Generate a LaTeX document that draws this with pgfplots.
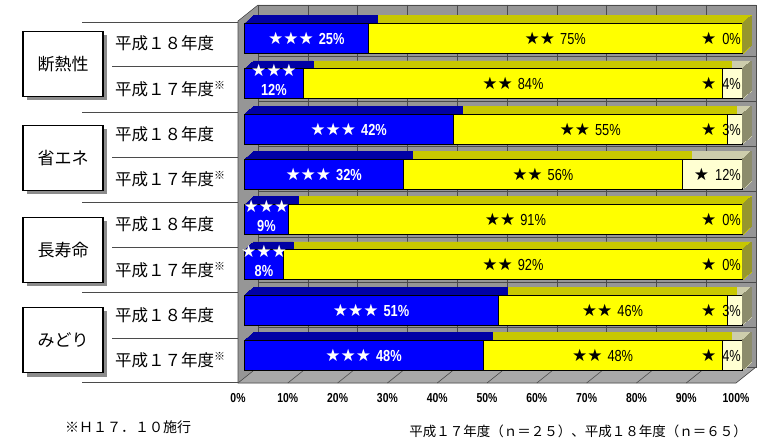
\documentclass[border=0pt]{standalone}
\usepackage{fontspec}
\setmainfont{Liberation Sans}
\newfontfamily\jp{Noto Sans CJK JP}
\newfontfamily\starf{DejaVu Sans}
\newfontfamily\num[FakeStretch=0.8]{Liberation Sans}
\usepackage{pgfplots}
\pgfplotsset{compat=1.18}
\usepackage{pgfplotstable}
\usetikzlibrary{shadows}

\definecolor{bfront}{RGB}{0,0,255}
\definecolor{btop}{RGB}{0,0,165}
\definecolor{yfront}{RGB}{255,255,0}
\definecolor{ytop}{RGB}{200,200,0}
\definecolor{yside}{RGB}{150,150,45}
\definecolor{cfront}{RGB}{255,255,210}
\definecolor{ctop}{RGB}{205,205,172}
\definecolor{cside}{RGB}{140,140,108}
\definecolor{wall}{RGB}{150,150,150}
\definecolor{floorg}{RGB}{168,168,168}
\definecolor{gridc}{RGB}{75,75,75}

% b = ★★★, y = ★★, w = ★  (percent)
\pgfplotstableread{
idx b y w
0 25 75 0
1 12 84 4
2 42 55 3
3 32 56 12
4 9 91 0
5 8 92 0
6 51 46 3
7 48 48 4
}\data

% front plane and back wall offsets from the bar faces
\newcommand\fp[2]{([xshift=-6pt,yshift=-5pt]axis cs:#1,#2)}
\newcommand\bk[2]{([xshift=14pt,yshift=11pt]axis cs:#1,#2)}

\pgfplotsset{bar3d/.style={xbar, bar width=30pt, bar shift=0pt, forget plot},
  /pgf/number format/assume math mode=true}

\newcommand\jpl{\jp\fontsize{16.5}{17}\selectfont}
\newcommand\stars{\starf\fontsize{17}{17}\selectfont}
\newcommand\nums{\num\fontsize{16}{16}\selectfont}

\begin{document}
\begin{tikzpicture}[x=1pt,y=1pt]
\path[use as bounding box] (0,0) rectangle (759,444);

% left side separators
\draw[gridc, line width=0.7pt] (82,422) -- (240,422);
\draw[gridc, line width=0.7pt] (82,332) -- (240,332);
\draw[gridc, line width=0.7pt] (82,242) -- (240,242);
\draw[gridc, line width=0.7pt] (82,152) -- (240,152);
\draw[gridc, line width=0.7pt] (82,62) -- (240,62);
\draw[gridc, line width=0.7pt] (112,378) -- (240,378);
\draw[gridc, line width=0.7pt] (112,287) -- (240,287);
\draw[gridc, line width=0.7pt] (112,197) -- (240,197);
\draw[gridc, line width=0.7pt] (112,106) -- (240,106);

% group boxes
\tikzset{grp/.style={draw, line width=1.4pt, fill=white, minimum width=80pt, minimum height=65pt,
  drop shadow={shadow xshift=4pt, shadow yshift=-4pt, fill=black!45, opacity=1}, font=\jp\fontsize{17}{17}\selectfont}}
\node[grp] at (63,380) {断熱性};
\node[grp] at (63,286) {省エネ};
\node[grp] at (63,194) {長寿命};
\node[grp] at (63,104) {みどり};

% row labels
\foreach \yy in {400.4,310,219.5,129}{
  \node[anchor=west, inner sep=0pt] at (115,\yy) {\jpl 平成１８年度};}
\foreach \yy in {355.2,264.8,174.3,83.8}{
  \node[anchor=west, inner sep=0pt] at (115,\yy) {\jpl 平成１７年度\raisebox{6pt}{\fontsize{11}{11}\selectfont ※}};}

% notes
\node[anchor=west, inner sep=0pt] at (65,17) {\jp\fontsize{14}{14}\selectfont ※Ｈ１７．１０施行};
\node[anchor=east, inner sep=0pt] at (747,13) {\jp\fontsize{13.5}{14}\selectfont 平成１７年度（ｎ＝２５）、平成１８年度（ｎ＝６５）};

\begin{axis}[
  at={(244pt,66pt)}, anchor=south west,
  scale only axis, width=498pt, height=362pt,
  xmin=0, xmax=100, ymin=-0.5, ymax=7.5, y dir=reverse,
  clip=false,
  axis line style={draw=none}, tick style={draw=none},
  ytick=\empty, xtick={0,10,...,100},
  xticklabel={\num\bfseries\fontsize{13}{13}\selectfont\pgfmathprintnumber{\tick}\%},
  xticklabel style={anchor=center, xshift=-6pt, yshift=-20pt},
]
% 3D box: walls and floor
\fill[wall] \fp{0}{7.5} -- \fp{0}{-0.5} -- \bk{0}{-0.5} -- \bk{100}{-0.5} -- \bk{100}{7.5} -- \fp{100}{7.5} -- cycle;
\fill[floorg] \fp{0}{7.5} -- \fp{100}{7.5} -- \bk{100}{7.5} -- \bk{0}{7.5} -- cycle;
\pgfplotsinvokeforeach{10,20,30,40,50,60,70,80,90}{
  \draw[gridc, line width=0.6pt] \bk{#1}{-0.5} -- \bk{#1}{7.5};
  \draw[gridc, line width=0.6pt] \fp{#1}{7.5} -- \bk{#1}{7.5};
}
\pgfplotsinvokeforeach{0.38,1.38,2.38,3.38,4.38,5.38,6.38}{
  \draw[gridc, line width=0.6pt] ([xshift=14pt]axis cs:0,#1) -- ([xshift=14pt]axis cs:100,#1);
}
\draw[gridc, line width=0.6pt] \bk{0}{7.5} -- \bk{0}{-0.5} -- \bk{100}{-0.5} -- \bk{100}{7.5} -- cycle;
\draw[gridc, line width=0.6pt] \fp{0}{-0.5} -- \fp{0}{7.5} -- \fp{100}{7.5} -- \bk{100}{7.5};
\draw[gridc, line width=0.6pt] \fp{0}{-0.5} -- \bk{0}{-0.5};
\draw[gridc, line width=0.6pt] \fp{0}{7.5} -- \bk{0}{7.5};

% depth of the bars (swept back faces)
\pgfplotsinvokeforeach{9,8,7,6,5,4,3,2,1}{
  \addplot[bar3d, fill=ctop, draw=ctop, xshift=#1pt, yshift=0.89*#1pt]
    table[x expr=\thisrow{b}+\thisrow{y}+\thisrow{w}, y=idx]{\data};
}
\pgfplotsinvokeforeach{9,8,7,6,5,4,3,2,1}{
  \addplot[bar3d, fill=ytop, draw=ytop, xshift=#1pt, yshift=0.89*#1pt]
    table[x expr=\thisrow{b}+\thisrow{y}, y=idx]{\data};
}
\pgfplotsinvokeforeach{9,8,7,6,5,4,3,2,1}{
  \addplot[bar3d, fill=btop, draw=btop, xshift=#1pt, yshift=0.89*#1pt]
    table[x expr=\thisrow{b}, y=idx]{\data};
}
% right side faces of the bars
\pgfplotsinvokeforeach{1,2,3,4,5,6,7,8,9}{
  \addplot[only marks, mark=|, mark size=15pt, mark options={draw=cside, line width=1.2pt},
    forget plot, xshift=#1pt, yshift=0.89*#1pt, restrict expr to domain={\thisrow{w}}{0.5:100}]
    table[x expr=\thisrow{b}+\thisrow{y}+\thisrow{w}, y=idx]{\data};
  \addplot[only marks, mark=|, mark size=15pt, mark options={draw=yside, line width=1.2pt},
    forget plot, xshift=#1pt, yshift=0.89*#1pt, restrict expr to domain={\thisrow{w}}{-1:0.5}]
    table[x expr=\thisrow{b}+\thisrow{y}+\thisrow{w}, y=idx]{\data};
}
% front faces
\addplot[bar3d, fill=cfront, draw=black, line width=0.8pt]
  table[x expr=\thisrow{b}+\thisrow{y}+\thisrow{w}, y=idx]{\data};
\addplot[bar3d, fill=yfront, draw=black, line width=0.8pt]
  table[x expr=\thisrow{b}+\thisrow{y}, y=idx]{\data};
\addplot[bar3d, fill=bfront, draw=black, line width=0.8pt]
  table[x expr=\thisrow{b}, y=idx]{\data};

% labels
\addplot[draw=none, point meta=explicit,
  restrict expr to domain={\thisrow{b}}{15:100},
  every node near coord/.append style={anchor=center, text=white, inner sep=0pt},
  nodes near coords={{\stars ★★★}\hspace{5pt}{\nums\bfseries\pgfmathprintnumber{\pgfplotspointmeta}\%}}]
  table[x expr=\thisrow{b}/2, y=idx, meta=b]{\data};
\addplot[draw=none, point meta=explicit,
  restrict expr to domain={\thisrow{b}}{0:14.9},
  every node near coord/.append style={anchor=center, text=white, inner sep=0pt, yshift=4pt},
  nodes near coords={\shortstack{{\stars ★★★}\\[5pt]{\nums\bfseries\pgfmathprintnumber{\pgfplotspointmeta}\%}}}]
  table[x expr=\thisrow{b}/2, y=idx, meta=b]{\data};
\addplot[draw=none, point meta=explicit,
  every node near coord/.append style={anchor=center, text=black, inner sep=0pt},
  nodes near coords={{\stars ★★}\hspace{5pt}{\nums\pgfmathprintnumber{\pgfplotspointmeta}\%}}]
  table[x expr=\thisrow{b}+\thisrow{y}/2, y=idx, meta=y]{\data};
\addplot[draw=none, point meta=explicit,
  every node near coord/.append style={anchor=east, text=black, inner sep=0pt, xshift=-1pt},
  nodes near coords={{\stars ★}\hspace{6pt}{\nums\pgfmathprintnumber{\pgfplotspointmeta}\%}}]
  table[x expr=\thisrow{b}+\thisrow{y}+\thisrow{w}, y=idx, meta=w]{\data};
\end{axis}
\end{tikzpicture}
\end{document}
